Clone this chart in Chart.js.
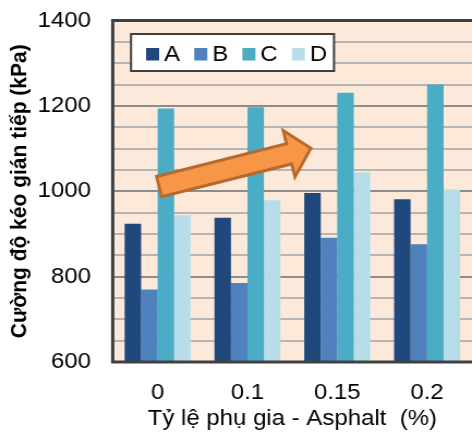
<!DOCTYPE html>
<html>
<head>
<meta charset="utf-8">
<script src="https://cdn.jsdelivr.net/npm/chart.js@4.4.1/dist/chart.umd.min.js"></script>
<style>
  html, body { margin: 0; padding: 0; background: #fff; overflow: hidden; }
  #chart { display: block; }
</style>
</head>
<body>
<canvas id="chart" width="433" height="435" style="width:472px;height:435px"></canvas>
<script>
// data
const categories = ['0', '0.1', '0.15', '0.2'];
const seriesNames = ['A', 'B', 'C', 'D'];
const valuesA = [924, 938, 996, 981];
const valuesB = [770, 785, 891, 876];
const valuesC = [1194, 1197, 1231, 1250];
const valuesD = [944, 979, 1044, 1004];
const yMin = 600;
const yMax = 1400;
const yStep = 50;
const yLabelStep = 200;

// trend arrow, in data units (category index, kPa)
const arrowFrom = [0, 1010];
const arrowTo = [1.73, 1102];

const colors = ['#1F497D', '#4F81BD', '#4BACC6', '#B7DEE8'];
const FONT = "'Liberation Sans', Arial, sans-serif";
// the source picture is slightly stretched horizontally
const SX = 472 / 433;

const plotBackground = {
    id: 'plotBackground',
    beforeDraw(chart) {
        const { ctx, chartArea: a } = chart;
        ctx.save();
        ctx.fillStyle = '#FDE9D9';
        ctx.fillRect(a.left, a.top, a.right - a.left, a.bottom - a.top);
        ctx.restore();
    }
};

const trendArrow = {
    id: 'trendArrow',
    afterDatasetsDraw(chart) {
        const { ctx, scales: { x, y } } = chart;
        const x0 = x.getPixelForValue(arrowFrom[0]) * SX;
        const y0 = y.getPixelForValue(arrowFrom[1]);
        const x1 = x.getPixelForValue(arrowTo[0]) * SX;
        const y1 = y.getPixelForValue(arrowTo[1]);
        const len = Math.hypot(x1 - x0, y1 - y0);
        const ux = (x1 - x0) / len, uy = (y1 - y0) / len;
        const nx = -uy, ny = ux;
        const sw = 10.5, hw = 24, tip = len - 2.2, base = tip - 22.5;
        const pts = [[1.5, -sw], [base, -sw], [base, -hw], [tip, 0], [base, hw], [base, sw], [1.5, sw]];
        ctx.save();
        ctx.scale(1 / SX, 1);
        ctx.beginPath();
        pts.forEach(([a, b], i) => {
            const px = x0 + ux * a + nx * b;
            const py = y0 + uy * a + ny * b;
            if (i) ctx.lineTo(px, py); else ctx.moveTo(px, py);
        });
        ctx.closePath();
        ctx.fillStyle = '#F79646';
        ctx.fill();
        ctx.lineWidth = 3;
        ctx.lineJoin = 'miter';
        ctx.strokeStyle = '#B5692C';
        ctx.stroke();
        ctx.restore();
    }
};

const frameAndLegend = {
    id: 'frameAndLegend',
    afterDraw(chart) {
        const { ctx, chartArea: a } = chart;
        ctx.save();
        // plot frame (right side runs off the picture)
        ctx.strokeStyle = '#404040';
        ctx.lineWidth = 3;
        ctx.beginPath();
        ctx.moveTo(a.right + 2, a.top);
        ctx.lineTo(a.left, a.top);
        ctx.lineTo(a.left, a.bottom);
        ctx.lineTo(a.right + 2, a.bottom);
        ctx.stroke();

        // legend box inside the plot
        const bx = 120.2, by = 34, bw = 186.2, bh = 37;
        ctx.fillStyle = '#fff';
        ctx.fillRect(bx, by, bw, bh);
        ctx.lineWidth = 2;
        ctx.strokeRect(bx, by, bw, bh);

        ctx.font = '22px ' + FONT;
        ctx.textBaseline = 'alphabetic';
        ctx.textAlign = 'left';
        let lx = 134;
        chart.data.datasets.forEach(ds => {
            ctx.fillStyle = ds.backgroundColor;
            ctx.fillRect(lx, 48, 12, 12.5);
            ctx.fillStyle = '#000';
            ctx.fillText(ds.label, lx + 16.5, 61.3);
            lx += 16.5 + ctx.measureText(ds.label).width + 13;
        });
        ctx.restore();
    }
};

const seriesValues = [valuesA, valuesB, valuesC, valuesD];

new Chart(document.getElementById('chart'), {
    type: 'bar',
    data: {
        labels: categories,
        datasets: seriesNames.map((name, i) => ({
            label: name,
            data: seriesValues[i],
            backgroundColor: colors[i],
            borderWidth: 0,
            categoryPercentage: 0.735,
            barPercentage: 1
        }))
    },
    options: {
        responsive: false,
        devicePixelRatio: 1,
        animation: false,
        layout: { padding: { top: 20.5, right: 0, bottom: 0, left: 0 } },
        plugins: {
            legend: { display: false },
            tooltip: { enabled: false }
        },
        scales: {
            x: {
                grid: { display: false },
                border: { display: false },
                ticks: {
                    color: '#000',
                    padding: 10,
                    font: { family: FONT, size: 22 }
                },
                title: {
                    display: true,
                    text: 'Tỷ lệ phụ gia - Asphalt  (%)',
                    color: '#000',
                    padding: { top: 0, bottom: 3 },
                    font: { family: FONT, size: 22 }
                },
                afterFit(scale) {
                    scale.height = 73;
                    scale.paddingLeft = 0;
                    scale.paddingRight = 0;
                }
            },
            y: {
                min: yMin,
                max: yMax,
                grid: {
                    drawTicks: false,
                    lineWidth: 2,
                    color: c => (c.tick && c.tick.value % yLabelStep === 0) ? '#8C8C8C' : '#B5B5B5'
                },
                border: { display: false },
                ticks: {
                    stepSize: yStep,
                    autoSkip: false,
                    color: '#000',
                    padding: 20,
                    font: { family: FONT, size: 22 },
                    callback: v => (v % yLabelStep === 0 ? String(v) : '')
                },
                title: {
                    display: true,
                    text: 'Cường độ kéo gián tiếp (kPa)',
                    color: '#000',
                    padding: { top: 5.5, bottom: 0 },
                    font: { family: FONT, size: 21, weight: 'bold' }
                },
                afterFit(scale) {
                    scale.width = 103.4;
                    scale.paddingTop = 0;
                    scale.paddingBottom = 0;
                }
            }
        }
    },
    plugins: [plotBackground, trendArrow, frameAndLegend]
});
</script>
</body>
</html>
